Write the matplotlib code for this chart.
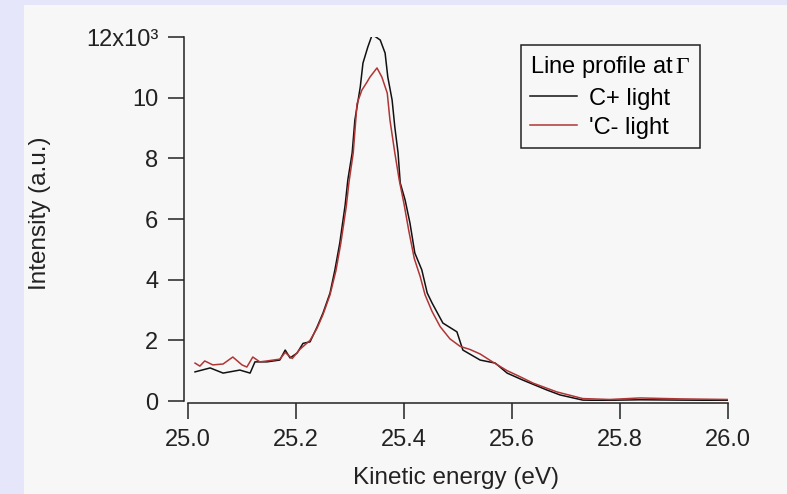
import matplotlib.pyplot as plt
from matplotlib.patches import Rectangle

plt.rcParams['font.family'] = ['Liberation Sans', 'DejaVu Sans']
plt.rcParams['mathtext.fontset'] = 'custom'
plt.rcParams['mathtext.rm'] = 'Liberation Serif'

# C+ light (black)
e_plus = [25.013, 25.041, 25.065, 25.096, 25.115, 25.124, 25.146, 25.170, 25.180,
          25.189, 25.202, 25.213, 25.226, 25.239, 25.250, 25.263, 25.272, 25.281,
          25.291, 25.296, 25.304, 25.309, 25.319, 25.324, 25.333, 25.341, 25.348,
          25.356, 25.365, 25.370, 25.378, 25.383, 25.389, 25.393, 25.402, 25.411,
          25.420, 25.433, 25.443, 25.452, 25.472, 25.498, 25.509, 25.541, 25.569,
          25.591, 25.620, 25.665, 25.689, 25.731, 25.763, 25.837, 25.911, 26.0]
i_plus = [960, 1090, 920, 1020, 920, 1290, 1290, 1350, 1680,
          1420, 1580, 1900, 1950, 2440, 2900, 3560, 4320, 5200,
          6460, 7290, 8180, 9260, 10350, 11140, 11670, 12070, 12000,
          11900, 11470, 10680, 9920, 9030, 8180, 7190, 6630, 5870,
          4880, 4320, 3560, 3230, 2570, 2280, 1680, 1350, 1250,
          920, 690, 360, 200, 30, 20, 40, 30, 20]

# C- light (red)
e_minus = [25.013, 25.022, 25.031, 25.046, 25.065, 25.083, 25.100, 25.109, 25.120,
           25.133, 25.146, 25.170, 25.180, 25.193, 25.207, 25.226, 25.239, 25.250,
           25.263, 25.274, 25.283, 25.293, 25.298, 25.306, 25.313, 25.322, 25.331,
           25.337, 25.350, 25.359, 25.369, 25.374, 25.383, 25.391, 25.400, 25.409,
           25.419, 25.430, 25.439, 25.452, 25.467, 25.485, 25.504, 25.522, 25.541,
           25.563, 25.591, 25.615, 25.639, 25.683, 25.731, 25.781, 25.837, 25.911, 26.0]
i_minus = [1250, 1150, 1320, 1190, 1220, 1450, 1190, 1120, 1450,
           1290, 1320, 1380, 1600, 1400, 1700, 2000, 2400, 2850,
           3500, 4300, 5200, 6400, 7200, 8180, 9800, 10250, 10500,
           10680, 10980, 10680, 10150, 9260, 8180, 7300, 6500, 5600,
           4700, 4100, 3500, 2950, 2450, 2050, 1800, 1700, 1550,
           1300, 1000, 800, 590, 300, 80, 50, 100, 70, 50]

x_ticks = [25.0, 25.2, 25.4, 25.6, 25.8, 26.0]
y_ticks = [0, 2000, 4000, 6000, 8000, 10000, 12000]
y_labels = ['0', '2', '4', '6', '8', '10', '12x10\u00b3']

W, H = 787, 494
fig = plt.figure(figsize=(W / 100, H / 100), dpi=100, facecolor='#E6E6FA')
fig.patches.append(Rectangle((24 / W, 0), 1, 1 - 5 / H, transform=fig.transFigure,
                             facecolor='#F7F7F7', edgecolor='none', zorder=-10))

ax = fig.add_axes([188 / W, 1 - 401 / H, 540 / W, 364 / H])
ax.set_facecolor('none')

ax.plot(e_plus, i_plus, color='#111111', lw=1.1, label='C+ light')
ax.plot(e_minus, i_minus, color='#B03535', lw=1.1, label="'C- light")

ax.set_xlim(25.0, 26.0)
ax.set_ylim(0, 12000)
ax.set_xticks(x_ticks)
ax.set_xticklabels(['%.1f' % v for v in x_ticks])
ax.set_yticks(y_ticks)
ax.set_yticklabels(y_labels)

for s in ['top', 'right']:
    ax.spines[s].set_visible(False)
ax.spines['left'].set_position(('outward', 3))
ax.spines['bottom'].set_position(('outward', 1.5))
for s in ['left', 'bottom']:
    ax.spines[s].set_linewidth(1.1)
    ax.spines[s].set_color('#222222')

ax.tick_params(direction='out', length=11.5, width=1.1, color='#222222',
               labelsize=17, labelcolor='#222222')
ax.tick_params(axis='x', pad=7)
ax.tick_params(axis='y', pad=7)

fig.text(40 / W, 1 - 213 / H, 'Intensity (a.u.)', rotation=90, ha='center', va='center',
         fontsize=17.5, color='#222222')
fig.text(456 / W, 1 - 478 / H, 'Kinetic energy (eV)', ha='center', va='center',
         fontsize=17.5, color='#222222')

leg = ax.legend(loc='upper right', bbox_to_anchor=(700 / W, 1 - 45 / H),
                bbox_transform=fig.transFigure, borderaxespad=0,
                title=r'Line profile at$\,\Gamma$', title_fontsize=17, fontsize=17,
                alignment='left', fancybox=False, framealpha=1, facecolor='#F7F7F7',
                edgecolor='#222222', handlelength=2.0, handletextpad=0.5,
                labelspacing=0.3, borderpad=0.4)
leg.get_frame().set_linewidth(1.1)

fig.savefig('out.png', dpi=100, facecolor=fig.get_facecolor())
